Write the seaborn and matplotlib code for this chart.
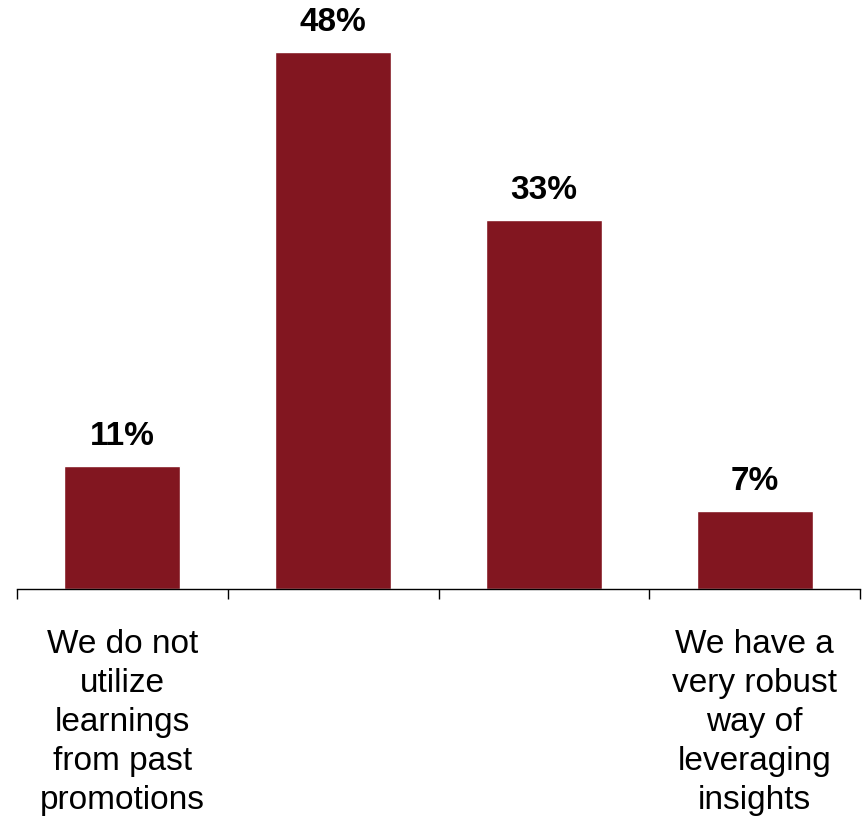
import matplotlib
matplotlib.use("Agg")
import matplotlib.pyplot as plt
import seaborn as sns
import pandas as pd
import numpy as np

# Survey responses: how promotion learnings are used
categories = ["Not utilized", "Somewhat", "Mostly", "Very robust"]
shares = [11, 48, 33, 7]
tick_labels = [
    "We do not\nutilize\nlearnings\nfrom past\npromotions",
    "",
    "",
    "We have a\nvery robust\nway of\nleveraging\ninsights",
]

bar_color = "#821620"

sns.set_theme(style="white")
plt.rcParams["font.family"] = ["Liberation Sans", "DejaVu Sans"]

df = pd.DataFrame({"category": categories, "share": shares})

fig = plt.figure(figsize=(8.65, 8.26), dpi=100)
ax = fig.add_axes([17 / 865, 237 / 826, 843 / 865, 589 / 826])

sns.barplot(data=df, x="category", y="share", color=bar_color,
            saturation=1, width=0.55, ax=ax)

ax.set_xlim(-0.5, len(categories) - 0.5)
ax.set_ylim(0, 589 / 11.19)

# value labels above each bar
for i, v in enumerate(shares):
    ax.annotate(f"{v}%", xy=(i, v), xytext=(0, 10), textcoords="offset points",
                ha="center", va="bottom", fontsize=24, fontweight="bold",
                color="black")

# category labels centred under bars, tick marks at the category boundaries
ax.set_xticks(range(len(categories)))
ax.set_xticklabels(tick_labels, fontsize=24, linespacing=1.33, color="black")
ax.tick_params(axis="x", which="major", length=0, pad=29)
ax.set_xticks(np.arange(-0.5, len(categories)), minor=True)
ax.tick_params(axis="x", which="minor", length=7.5, width=1.0,
               direction="out", color="black", bottom=True)

ax.set_yticks([])
ax.set_xlabel("")
ax.set_ylabel("")
for side in ["top", "right", "left"]:
    ax.spines[side].set_visible(False)
ax.spines["bottom"].set_color("black")
ax.spines["bottom"].set_linewidth(1.0)

fig.savefig("out.png", dpi=100, facecolor="white")
